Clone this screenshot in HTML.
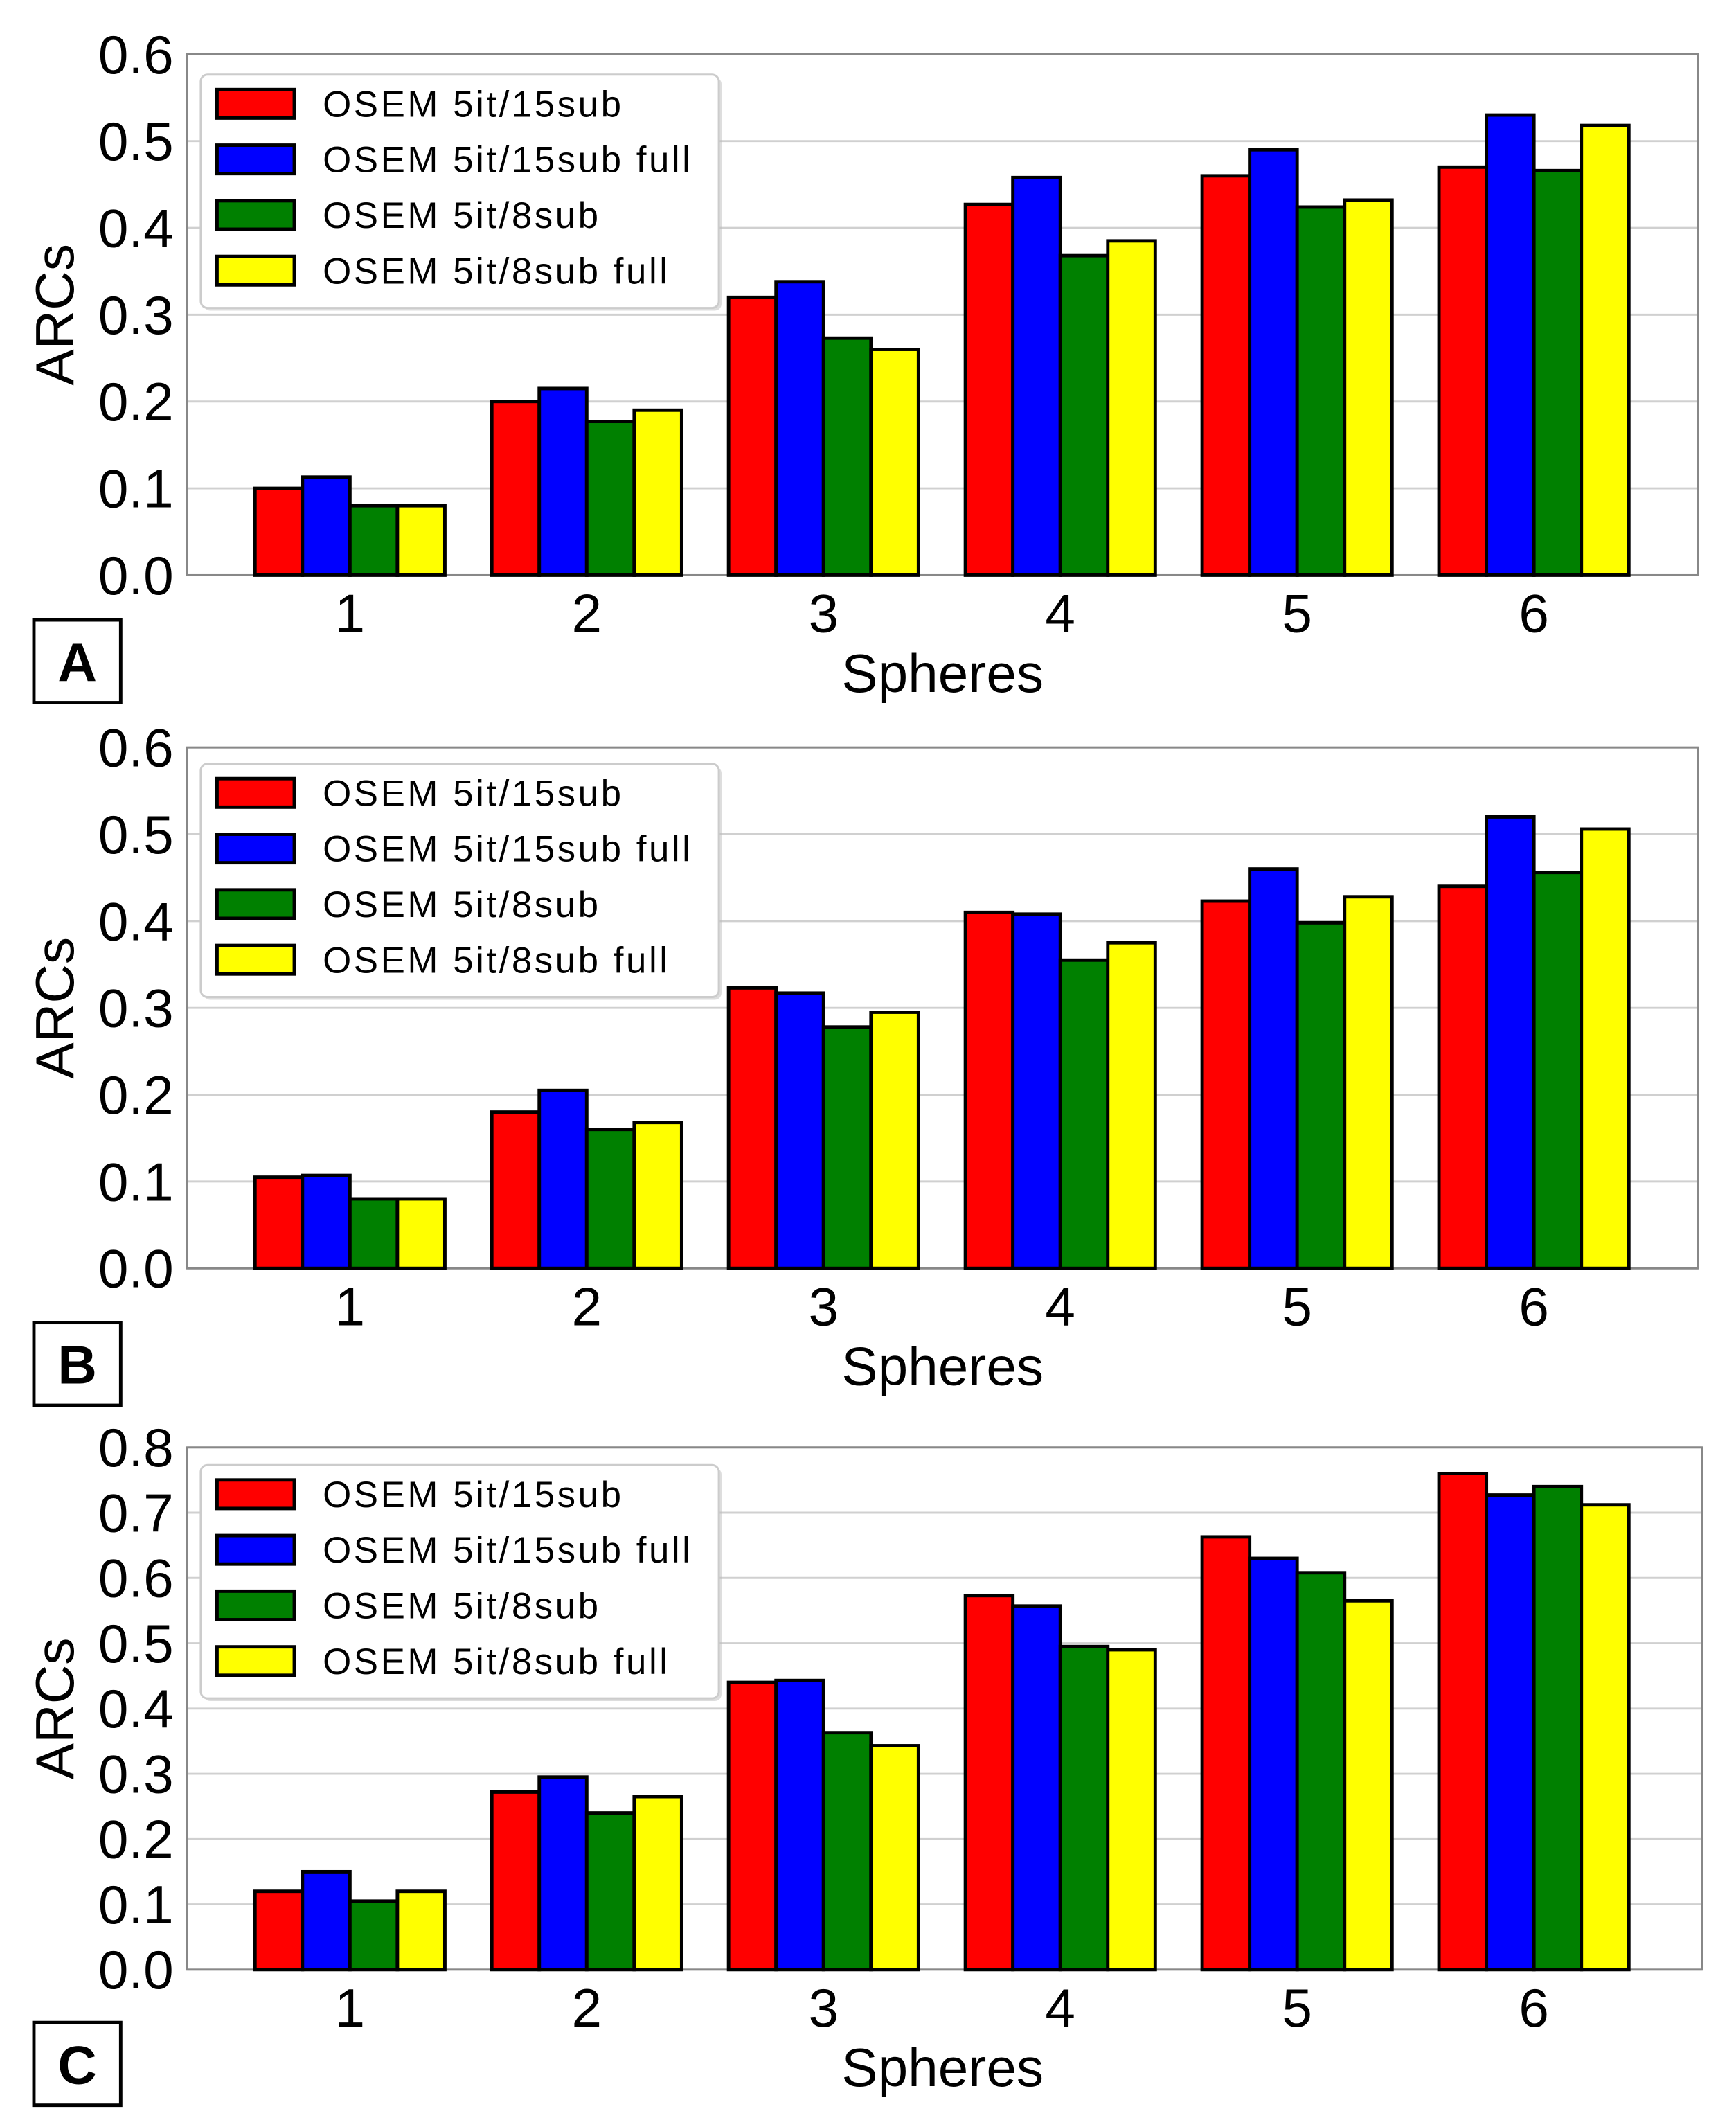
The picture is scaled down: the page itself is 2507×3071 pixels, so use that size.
<!DOCTYPE html>
<html><head><meta charset="utf-8"><style>
html,body{margin:0;padding:0;background:#fff;}
svg{display:block;font-family:"Liberation Sans",Arial,sans-serif;}
</style></head><body>
<svg id="fig" width="2507" height="3071" viewBox="0 0 1280 1568" xmlns="http://www.w3.org/2000/svg"></svg>
<script>
const categories = ["1","2","3","4","5","6"];
const seriesNames = ["OSEM 5it/15sub","OSEM 5it/15sub full","OSEM 5it/8sub","OSEM 5it/8sub full"];
const colors = ["#ff0000","#0000ff","#008000","#ffff00"];
const panelLabels = ["A","B","C"];
const aS1 = [0.10,0.20,0.32,0.427,0.46,0.47];
const aS2 = [0.113,0.215,0.338,0.458,0.49,0.53];
const aS3 = [0.08,0.177,0.273,0.368,0.424,0.466];
const aS4 = [0.08,0.19,0.26,0.385,0.432,0.518];
const bS1 = [0.105,0.18,0.323,0.41,0.423,0.44];
const bS2 = [0.107,0.205,0.317,0.408,0.46,0.52];
const bS3 = [0.08,0.16,0.278,0.355,0.398,0.456];
const bS4 = [0.08,0.168,0.295,0.375,0.428,0.506];
const cS1 = [0.12,0.272,0.44,0.573,0.663,0.76];
const cS2 = [0.15,0.295,0.443,0.557,0.63,0.727];
const cS3 = [0.105,0.24,0.363,0.495,0.608,0.74];
const cS4 = [0.12,0.265,0.343,0.49,0.565,0.712];
const ticksAB = ["0.0","0.1","0.2","0.3","0.4","0.5","0.6"];
const ticksC = ["0.0","0.1","0.2","0.3","0.4","0.5","0.6","0.7","0.8"];

const NS="http://www.w3.org/2000/svg";
const svg=document.getElementById('fig');
function mk(tag,attrs,parent){const e=document.createElementNS(NS,tag);for(const k in attrs)e.setAttribute(k,attrs[k]);(parent||svg).appendChild(e);return e;}

const panels=[
 {series:[aS1,aS2,aS3,aS4],ticks:ticksAB,ymax:0.6,top:40,bot:424,right:1252,legY:55,boxY:457},
 {series:[bS1,bS2,bS3,bS4],ticks:ticksAB,ymax:0.6,top:551,bot:935,right:1252,legY:563,boxY:975},
 {series:[cS1,cS2,cS3,cS4],ticks:ticksC,ymax:0.8,top:1067,bot:1452,right:1255,legY:1080,boxY:1491}
];
const left=138;
panels.forEach((p,pi)=>{
  const g=mk('g',{});
  
  
  const y=v=>p.bot-(v/p.ymax)*(p.bot-p.top);
  const x=i=>258+i*174.6;
  p.ticks.forEach(t=>{
    const v=parseFloat(t), yy=y(v);
    const gl=mk('line',{x1:left,x2:p.right,y1:yy,y2:yy,stroke:'#d0d0d0','stroke-width':1.5},g);
    
    
    const tl=mk('text',{x:128,y:yy+14,'text-anchor':'end','font-size':40,fill:'#000'},g);
    tl.textContent=t;
    
    
  });
  const fr=mk('rect',{x:left,y:p.top,width:p.right-left,height:p.bot-p.top,fill:'none',stroke:'#888','stroke-width':1.5},g);
  
  
  const bw=35;
  p.series.forEach((s,si)=>{
    s.forEach((v,ci)=>{
      const bx=x(ci)-2*bw+si*bw;
      const r=mk('rect',{x:bx,y:y(v),width:bw,height:y(0)-y(v),fill:colors[si],stroke:'#000','stroke-width':2.5},g);
      
      
    });
  });
  categories.forEach((c,ci)=>{
    const t=mk('text',{x:x(ci),y:p.bot+42,'text-anchor':'middle','font-size':40},g);
    t.textContent=c;
    
    
  });
  const xt=mk('text',{x:695,y:p.bot+86,'text-anchor':'middle','font-size':40},g);
  xt.textContent='Spheres';
  
  
  const yc=(p.top+p.bot)/2;
  const yt=mk('text',{x:54,y:yc,'text-anchor':'middle','font-size':40,transform:'rotate(-90 54 '+yc+')'},g);
  yt.textContent='ARCs';
  
  
  const lg=mk('g',{},g);
  
  
  mk('rect',{x:150,y:p.legY+2,width:382,height:172,rx:5,fill:'#bbb',opacity:0.5},lg);
  mk('rect',{x:148,y:p.legY,width:382,height:172,rx:5,fill:'#fff',stroke:'#ccc','stroke-width':1.5},lg);
  seriesNames.forEach((n,si)=>{
    const ly=p.legY+11+si*41;
    const sw=mk('rect',{x:160,y:ly,width:57,height:21,fill:colors[si],stroke:'#000','stroke-width':2.5},lg);
    
    
    const t=mk('text',{x:238,y:ly+20,'font-size':27,'letter-spacing':1.8},lg);
    t.textContent=n;
    
    
  });
  const pb=mk('rect',{x:25,y:p.boxY,width:64,height:61,fill:'#fff',stroke:'#000','stroke-width':2.5},g);
  
  
  const pt=mk('text',{x:57,y:p.boxY+45,'text-anchor':'middle','font-size':40,'font-weight':'bold'},g);
  pt.textContent=panelLabels[pi];
  
  
});
</script>
</body></html>
